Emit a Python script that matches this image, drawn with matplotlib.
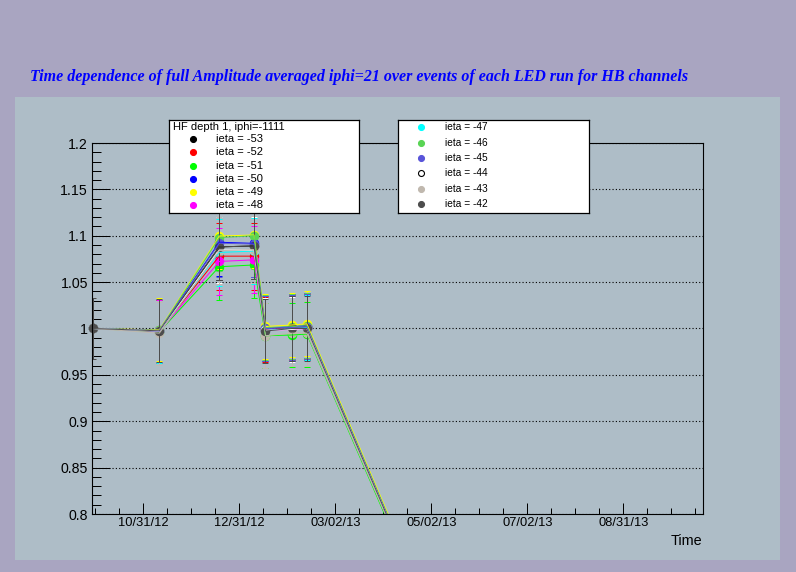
import numpy as np
import pandas as pd
import matplotlib
matplotlib.use("Agg")
import matplotlib.pyplot as plt
import matplotlib.dates as mdates
from matplotlib.ticker import FixedLocator, MultipleLocator
from matplotlib.lines import Line2D

plt.rcParams["font.family"] = ["Liberation Sans", "DejaVu Sans"]

# LED runs (time of each run)
run_time = pd.to_datetime([
    "2012-09-29 08:00", "2012-11-10 14:00", "2012-12-18 15:00", "2013-01-09 15:00",
    "2013-01-16 22:00", "2013-02-02 17:00", "2013-02-12 03:00", "2013-05-01 07:30",
])

ieta = [-53, -52, -51, -50, -49, -48, -47, -46, -45, -44, -43, -42]
colors = ["#000000", "#ff0000", "#00ff00", "#0000ff", "#ffff00", "#ff00ff",
          "#00ffff", "#59d454", "#5954d9", "#ffffff", "#c0b8ae", "#4d4d4d"]

# normalized amplitude per channel (one list per ieta)
amp_m53 = [1.0, 0.9975, 1.088, 1.089, 0.998, 1.000, 1.001, 0.690]
amp_m52 = [1.0, 0.9972, 1.078, 1.078, 0.999, 1.001, 1.002, 0.690]
amp_m51 = [1.0, 0.9965, 1.0666, 1.0685, 0.9922, 0.993, 0.994, 0.686]
amp_m50 = [1.0, 0.998, 1.093, 1.0918, 1.000, 1.002, 1.003, 0.691]
amp_m49 = [1.0, 0.9985, 1.0997, 1.1008, 1.0022, 1.0038, 1.005, 0.694]
amp_m48 = [1.0, 0.9968, 1.0723, 1.074, 0.998, 0.999, 1.000, 0.689]
amp_m47 = [1.0, 0.9973, 1.082, 1.0835, 0.998, 1.000, 1.001, 0.690]
amp_m46 = [1.0, 0.998, 1.098, 1.100, 1.001, 1.002, 1.003, 0.692]
amp_m45 = [1.0, 0.9978, 1.092, 1.091, 1.000, 1.001, 1.002, 0.691]
amp_m44 = [1.0, 0.9974, 1.0846, 1.0846, 0.998, 0.999, 1.000, 0.690]
amp_m43 = [1.0, 0.995, 1.084, 1.085, 0.9922, 0.995, 0.995, 0.688]
amp_m42 = [1.0, 0.9975, 1.088, 1.089, 0.9973, 1.000, 1.000, 0.690]
amp_err = [0.033, 0.034, 0.036, 0.036, 0.035, 0.035, 0.035, 0.035]

series = [amp_m53, amp_m52, amp_m51, amp_m50, amp_m49, amp_m48,
          amp_m47, amp_m46, amp_m45, amp_m44, amp_m43, amp_m42]

W, H = 796, 572
fig = plt.figure(figsize=(W / 100, H / 100), dpi=100)
fig.patch.set_facecolor("#a9a5c1")
pad_color = "#aebdc7"
fig.add_artist(plt.Rectangle((15 / W, 1 - 560 / H), 765 / W, 463 / H,
                             transform=fig.transFigure, facecolor=pad_color,
                             edgecolor="none", zorder=0))

ax = fig.add_axes([92 / W, 1 - 514 / H, (703.3 - 92) / W, (514 - 143) / H])
ax.set_facecolor(pad_color)

x = mdates.date2num(run_time)
for vals, c in zip(series, colors):
    v = np.array(vals)
    ax.errorbar(x, v, yerr=amp_err, color=c, lw=0.72, elinewidth=0.72,
                capsize=2, capthick=0.72, zorder=3)
    # markers are not clipped by the frame (as in ROOT), only drawn inside y range
    inside = v >= 0.8
    ax.plot(x[inside], v[inside], "o", ms=5.8, color=c, mec=c, clip_on=False, zorder=3)

t0 = mdates.date2num(pd.Timestamp("2012-10-31 10:00"))
step = 60.9
ax.set_xlim(t0 - 32.54, t0 + 355.2)
ax.set_ylim(0.8, 1.2)
ax.xaxis.set_major_locator(FixedLocator(t0 + step * np.arange(-1, 7)))
ax.xaxis.set_minor_locator(FixedLocator(t0 + step / 4 * np.arange(-4, 28)))
ax.xaxis.set_major_formatter(mdates.DateFormatter("%m/%d/%y"))
ax.yaxis.set_major_locator(MultipleLocator(0.05))
ax.yaxis.set_minor_locator(MultipleLocator(0.01))
ax.yaxis.set_major_formatter(plt.FuncFormatter(lambda v, p: f"{v:.2f}".rstrip("0").rstrip(".")))

ax.tick_params(axis="x", which="major", direction="in", length=8, width=0.72,
               labelsize=9.3, pad=2, top=False)
ax.tick_params(axis="x", which="minor", direction="in", length=4, width=0.72, top=False)
ax.tick_params(axis="y", which="major", direction="in", length=13.2, width=0.72,
               labelsize=10.2, pad=2.9, right=False)
ax.tick_params(axis="y", which="minor", direction="in", length=6.6, width=0.72, right=False)
for s in ax.spines.values():
    s.set_linewidth(0.8)
    s.set_zorder(4)
ax.grid(axis="y", which="major", color="black", linestyle=(0, (1, 2)), linewidth=0.8)
ax.set_axisbelow(True)

fig.text(30 / W, 1 - 77 / H,
         "Time dependence of full Amplitude averaged iphi=21 over events of each LED run for HB channels",
         color="#0000ff", fontsize=11.5, fontweight="bold", fontstyle="italic",
         family="Liberation Serif", ha="left", va="center")
fig.text(702.7 / W, 1 - 540.7 / H, "Time", fontsize=10.4, ha="right", va="center")

# legend boxes (ROOT style)
def legend_box(rect, rows, mx, tx, ys, fs, header=None):
    lax = fig.add_axes(rect, zorder=5)
    lax.set_facecolor("white")
    lax.set_xlim(0, 1)
    lax.set_ylim(0, 1)
    lax.set_xticks([])
    lax.set_yticks([])
    for s in lax.spines.values():
        s.set_linewidth(0.9)
    if header:
        lax.text(0.021, 0.93, header, fontsize=8, ha="left", va="center")
    for (lab, c), yy in zip(rows, ys):
        ec = "black" if c == "#ffffff" else c
        lax.add_line(Line2D([mx], [yy], marker="o", ms=4.3, color=c, mec=ec, mew=0.8))
        lax.text(tx, yy, f"ieta = {lab}", fontsize=fs, ha="left", va="center")

rows = list(zip(ieta, colors))
legend_box([168.7 / W, 1 - 213.3 / H, 190.6 / W, 93.3 / H], rows[:6], 0.126, 0.248,
           [0.793, 0.654, 0.510, 0.371, 0.232, 0.089], 8, "HF depth 1, iphi=-1111")
legend_box([398.3 / W, 1 - 212.7 / H, 191 / W, 92.7 / H], rows[6:], 0.119, 0.2445,
           [0.921, 0.749, 0.587, 0.425, 0.256, 0.094], 7.3)

fig.savefig("out.png", dpi=100, facecolor=fig.get_facecolor())
